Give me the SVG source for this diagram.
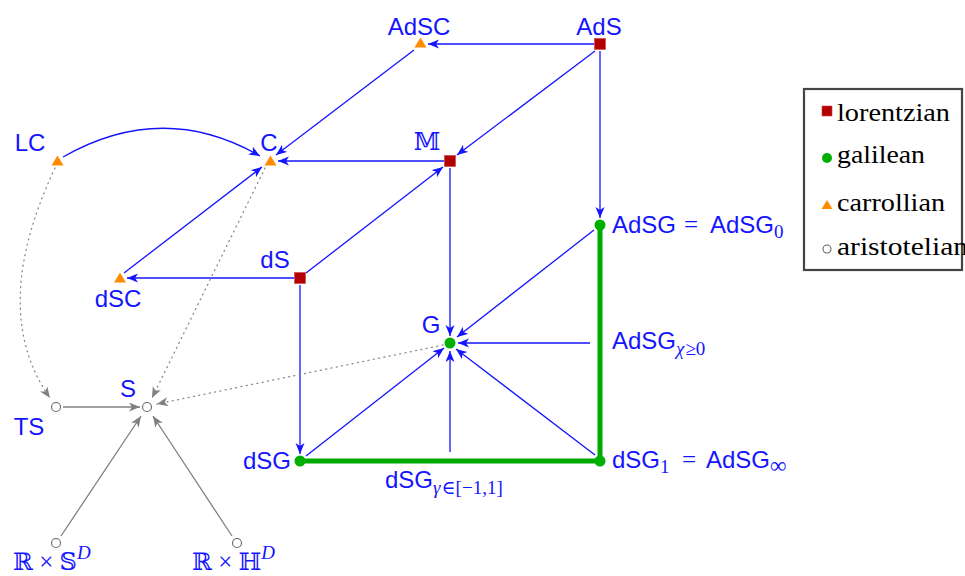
<svg xmlns="http://www.w3.org/2000/svg" width="965" height="576" viewBox="0 0 965 576">
<style>
.lbl{font-family:"Liberation Sans",Arial,sans-serif;font-size:24px;fill:#1414ff}
.m{font-family:"Liberation Serif","DejaVu Serif",serif;font-size:25px}
.ds{font-family:"DejaVu Serif","DejaVu Sans","Noto Sans",serif;font-size:24px}
.sub{font-family:"Liberation Serif","DejaVu Serif",serif;font-style:italic;font-size:19px}
.subr{font-family:"Liberation Serif","DejaVu Serif",serif;font-size:19px}
.inf{font-family:"Liberation Serif","DejaVu Serif",serif;font-size:23px}
.e{stroke:#1414ff;stroke-width:1.3;fill:none;marker-end:url(#ab)}
.g{stroke:#808080;stroke-width:1.3;fill:none;marker-end:url(#ag)}
.d{stroke:#8a8a8a;stroke-width:1.3;fill:none;stroke-dasharray:1 4.4;stroke-linecap:round;marker-end:url(#ag)}
.thick{stroke:#00aa00;stroke-width:5;fill:none}
.lor{fill:#b30000;stroke:#d04040;stroke-width:0.6}
.gal{fill:#00b000}
.car{fill:#ff8c00}
.ari{fill:#fff;stroke:#666;stroke-width:1.1}
.leg{font-family:"Liberation Serif","Times New Roman",serif;font-size:26px;fill:#000}
</style>
<defs>
<marker id="ab" markerUnits="userSpaceOnUse" markerWidth="12" markerHeight="10" refX="11" refY="4.5" orient="auto">
<path d="M0,0 L11,4.5 L0,9 L3,4.5 z" fill="#1414ff"/>
</marker>
<marker id="ag" markerUnits="userSpaceOnUse" markerWidth="12" markerHeight="10" refX="11" refY="4.5" orient="auto">
<path d="M0,0 L11,4.5 L0,9 L3,4.5 z" fill="#808080"/>
</marker>
</defs>

<g id="connectors">
<line class="thick" x1="300" y1="461" x2="600" y2="461"/>
<line class="thick" x1="600" y1="225" x2="600" y2="461"/>
<line class="e" x1="594" y1="44" x2="428" y2="44"/>
<line class="e" x1="595" y1="51" x2="457" y2="155"/>
<line class="e" x1="600" y1="51" x2="600" y2="218"/>
<line class="e" x1="414" y1="50" x2="276" y2="155"/>
<line class="e" x1="444" y1="161" x2="278" y2="161"/>
<line class="e" x1="450" y1="168" x2="450" y2="336"/>
<line class="e" x1="306" y1="273" x2="443" y2="167"/>
<line class="e" x1="294" y1="278" x2="127" y2="278"/>
<line class="e" x1="300" y1="285" x2="300" y2="454"/>
<line class="e" x1="124" y1="273" x2="262" y2="167"/>
<path class="e" d="M63,157 Q163,100 260,156"/>
<line class="e" x1="594" y1="230" x2="457" y2="337"/>
<line class="e" x1="306" y1="456" x2="444" y2="348"/>
<line class="e" x1="595" y1="455" x2="456" y2="349"/>
<line class="e" x1="590" y1="343" x2="458" y2="343"/>
<line class="e" x1="450" y1="452" x2="450" y2="351"/>
<line class="g" x1="63" y1="407" x2="140" y2="407"/>
<line class="g" x1="61" y1="536" x2="141" y2="416"/>
<line class="g" x1="232" y1="536" x2="153" y2="416"/>
<path class="d" d="M55,168 Q-12,310 50,398"/>
<line class="d" x1="265" y1="168" x2="152" y2="398"/>
<line class="d" x1="443" y1="345" x2="157" y2="404"/>
<text class="lbl" y="349"><tspan x="612">AdSG</tspan><tspan class="sub" dy="6">χ</tspan><tspan class="subr" dx="1">≥0</tspan></text>
<text class="lbl" y="488"><tspan x="385">dSG</tspan><tspan class="sub" dy="6">γ</tspan><tspan class="subr" dx="1">∈[−1,1]</tspan></text>
</g>

<g id="AdS">
<rect class="lor" x="594.5" y="38.5" width="11" height="11"/>
<text class="lbl" x="599" y="35" text-anchor="middle">AdS</text>
</g>
<g id="AdSC">
<polygon class="car" points="414.5,47.5 426.5,47.5 420.5,37.5"/>
<text class="lbl" x="419" y="35" text-anchor="middle">AdSC</text>
</g>
<g id="M">
<rect class="lor" x="444.5" y="155.5" width="11" height="11"/>
<text class="lbl ds" x="427" y="150" text-anchor="middle">𝕄</text>
</g>
<g id="C">
<polygon class="car" points="264.5,165.5 276.5,165.5 270.5,155.5"/>
<text class="lbl" x="269" y="151" text-anchor="middle">C</text>
</g>
<g id="LC">
<polygon class="car" points="51.5,165.5 63.5,165.5 57.5,155.5"/>
<text class="lbl" x="30" y="151" text-anchor="middle">LC</text>
</g>
<g id="dS">
<rect class="lor" x="294.5" y="272.5" width="11" height="11"/>
<text class="lbl" x="275" y="268" text-anchor="middle">dS</text>
</g>
<g id="dSC">
<polygon class="car" points="114,282.5 126,282.5 120,272.5"/>
<text class="lbl" x="118" y="307" text-anchor="middle">dSC</text>
</g>
<g id="AdSG">
<circle class="gal" cx="600" cy="225" r="5.5"/>
<text class="lbl" y="233"><tspan x="612">AdSG</tspan><tspan class="m" x="684">=</tspan><tspan x="710">AdSG</tspan><tspan class="subr" dy="5">0</tspan></text>
</g>
<g id="G">
<circle class="gal" cx="450" cy="343" r="5.5"/>
<text class="lbl" x="431" y="333" text-anchor="middle">G</text>
</g>
<g id="dSG">
<circle class="gal" cx="300" cy="461" r="5.5"/>
<text class="lbl" x="291" y="469" text-anchor="end">dSG</text>
</g>
<g id="dSG1">
<circle class="gal" cx="600" cy="461" r="5.5"/>
<text class="lbl" y="468"><tspan x="612">dSG</tspan><tspan class="subr" dy="5">1</tspan><tspan class="m" x="682" dy="-5">=</tspan><tspan x="706">AdSG</tspan><tspan class="inf" dy="5">∞</tspan></text>
</g>
<g id="TS">
<circle class="ari" cx="56" cy="407" r="4.5"/>
<text class="lbl" x="29" y="435" text-anchor="middle">TS</text>
</g>
<g id="S">
<circle class="ari" cx="147" cy="407" r="4.5"/>
<text class="lbl" x="128" y="397" text-anchor="middle">S</text>
</g>
<g id="RxSD">
<circle class="ari" cx="56" cy="543" r="4.5"/>
<text class="lbl" y="570"><tspan class="ds" x="13">ℝ</tspan><tspan class="m"> × </tspan><tspan class="ds">𝕊</tspan><tspan class="sub" dy="-11">D</tspan></text>
</g>
<g id="RxHD">
<circle class="ari" cx="237" cy="543" r="4.5"/>
<text class="lbl" y="570"><tspan class="ds" x="192">ℝ</tspan><tspan class="m"> × </tspan><tspan class="ds">ℍ</tspan><tspan class="sub" dy="-11">D</tspan></text>
</g>

<g id="legend">
<rect x="804" y="89" width="158" height="181" fill="#fff" stroke="#444" stroke-width="2.2"/>
<rect class="lor" x="822" y="106" width="10" height="10"/>
<text class="leg" x="837" y="121" textLength="113" lengthAdjust="spacingAndGlyphs">lorentzian</text>
<circle class="gal" cx="827" cy="158" r="5"/>
<text class="leg" x="837" y="163" textLength="88" lengthAdjust="spacingAndGlyphs">galilean</text>
<polygon class="car" points="821.5,209 832.5,209 827,200"/>
<text class="leg" x="837" y="211" textLength="108" lengthAdjust="spacingAndGlyphs">carrollian</text>
<circle class="ari" cx="827" cy="249" r="4"/>
<text class="leg" x="837" y="255" textLength="131" lengthAdjust="spacingAndGlyphs">aristotelian</text>
</g>
</svg>
